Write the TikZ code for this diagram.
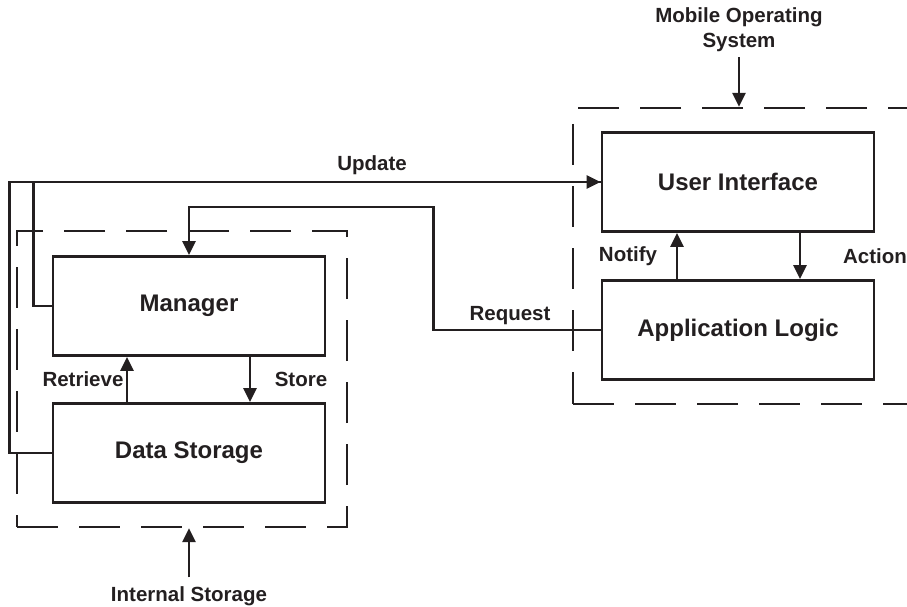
\documentclass[tikz,border=0pt]{standalone}
\usepackage{fontspec}
\setmainfont{Liberation Sans}
\usetikzlibrary{arrows.meta}
\definecolor{ink}{HTML}{231F20}
\tikzset{
  block/.style={draw=ink, text=ink, line width=2.8pt, minimum width=272pt, minimum height=99pt, inner sep=0pt, font=\fontsize{24}{28}\selectfont\bfseries},
  group/.style={draw=ink, line width=2.4pt, dash pattern=on 41pt off 21pt, inner sep=0pt},
  lbl/.style={text=ink, font=\fontsize{20.5}{25}\selectfont\bfseries, align=center, inner sep=2pt},
  flow/.style={draw=ink, line width=2.6pt, -{Triangle[length=14pt,width=13pt]}},
  wire/.style={draw=ink, line width=2.6pt},
}
\begin{document}
\begin{tikzpicture}[x=1pt, y=-1pt]
\useasboundingbox (0,0) rectangle (907,607);
\node[group, minimum width=330pt, minimum height=296pt] (isgrp) at (182,379) {};
\node[group, minimum width=340pt, minimum height=296pt] (osgrp) at (743,256) {};
\node[block] (mgr) at (189,306) {Manager};
\node[block] (ds) at (189,453) {Data Storage};
\node[block] (ui) at (738,182) {User Interface};
\node[block] (al) at (738,330) {Application Logic};
\node[lbl, outer ysep=3pt] (mos) at (739,30) {Mobile Operating\\System};
\node[lbl, outer ysep=7pt] (ist) at (189,596) {Internal Storage};
\draw[flow] (mos.south) -- (mos.south |- osgrp.north);
\draw[flow] (ist.north) -- (ist.north |- isgrp.south);
\draw[flow] (ds.west) -- ++(-42,0) |- (ui.west);
\draw[wire] (mgr.west) -- ++(-18,0) |- (ui.west);
\draw[flow] (al.west) -- ++(-167,0) -- ++(0,-123) -| (mgr.north);
\draw[flow] ([xshift=-62pt]ds.north) -- ([xshift=-62pt]mgr.south);
\draw[flow] ([xshift=61pt]mgr.south) -- ([xshift=61pt]ds.north);
\draw[flow] ([xshift=-61pt]al.north) -- ([xshift=-61pt]ui.south);
\draw[flow] ([xshift=62pt]ui.south) -- ([xshift=62pt]al.north);
\node[lbl] (upd) at (372,165) {Update};
\node[lbl] (req) at (510,316) {Request};
\node[lbl] (ret) at (83,379) {Retrieve};
\node[lbl] (sto) at (301,379) {Store};
\node[lbl] (ntf) at (628,256) {Notify};
\node[lbl] (act) at (875,256) {Action};
\end{tikzpicture}
\end{document}
